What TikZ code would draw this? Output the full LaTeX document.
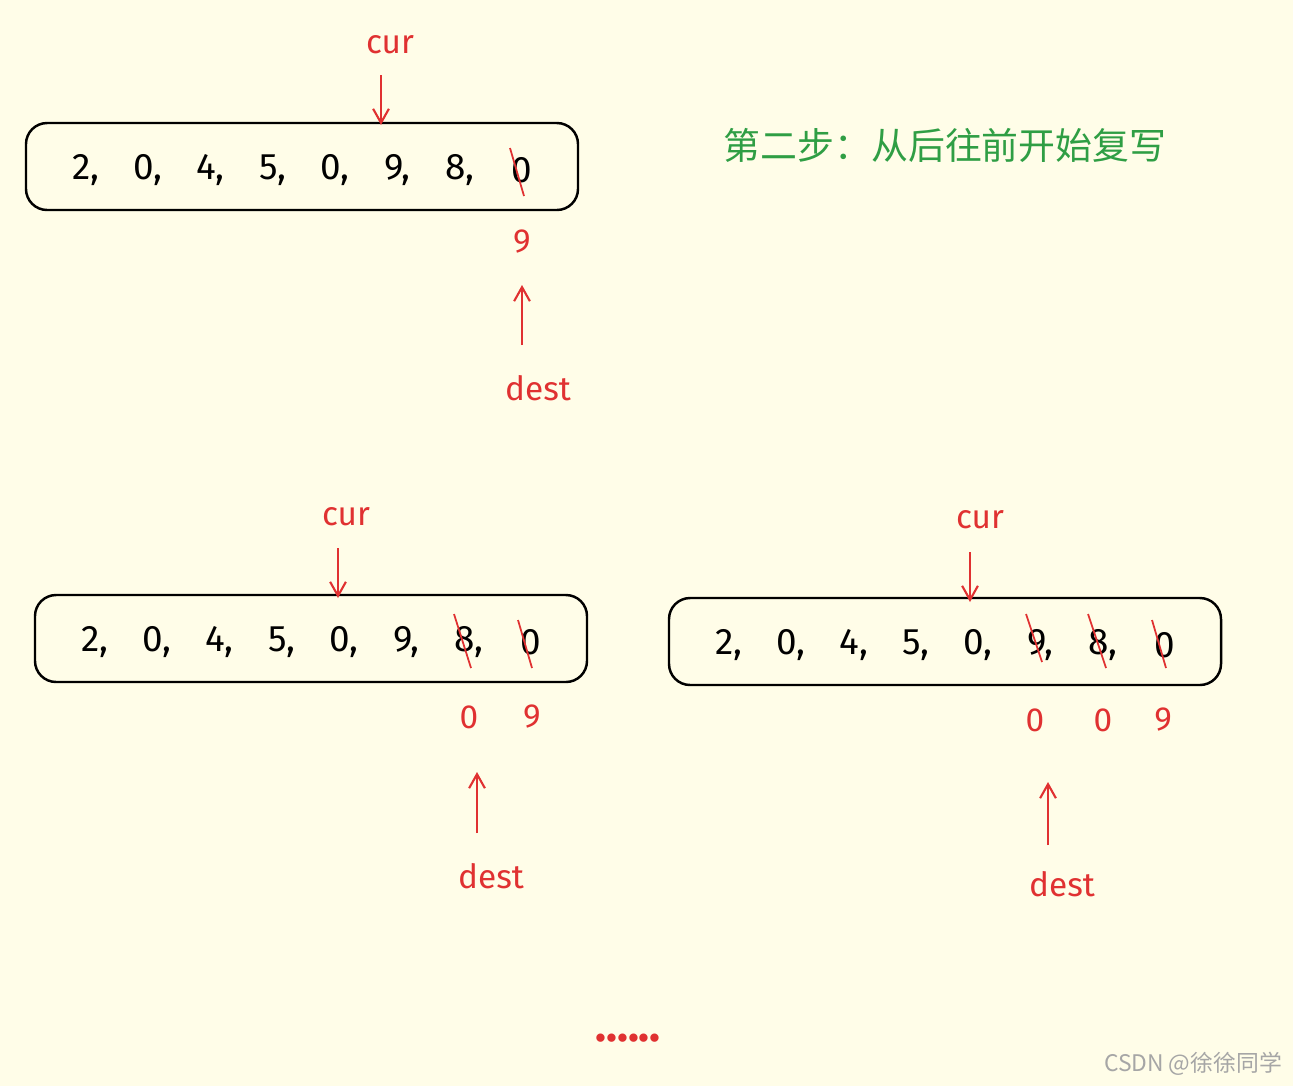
\documentclass[tikz,border=0pt]{standalone}
\usepackage{fontspec}
\setmainfont{Fira Sans}
\newfontfamily\cjk{Noto Sans CJK SC}
\usetikzlibrary{positioning,arrows.meta}
\definecolor{paper}{HTML}{FFFDE8}
\definecolor{mark}{HTML}{E03131}
\definecolor{step}{HTML}{2F9E44}
\tikzset{
  box/.style={draw, line width=1.4pt, rounded corners=12pt},
  digit/.style={font=\fontsize{21}{21}\selectfont, inner sep=1pt},
  tag/.style={text=mark, font=\fontsize{19}{19}\selectfont},
  strike/.style={draw=mark, line width=1pt},
  ptr/.style={draw=mark, line width=1.2pt, -{Straight Barb[length=8pt,width=9pt]}}
}
% one row of numbers, digits named <prefix>1 ... <prefix>8
\newcommand{\numrow}[3]{%
  \foreach \d [count=\i] in {2,0,4,5,0,9,8,0} {
    \node[digit] (#1\i) at ({#2+(\i-1)*62.3},#3) {\d\ifnum\i<8,\fi};
  }}
\begin{document}
\begin{tikzpicture}[x=0.02cm, y=-0.02cm]
  \fill[paper] (0,0) rectangle (1293,1086);
  \useasboundingbox (0,0) rectangle (1293,1086);

  % first step
  \draw[box] (26,123) rectangle (578,210);
  \numrow{a}{86}{170}
  \draw[strike] (510,148) -- (524,196);
  \node[tag] (acur) at (390,45) {cur};
  \coordinate (atop) at (381,125);
  \draw[ptr] (381,75) -- (atop);
  \node[tag] (anine) at (522,242) {9};
  \node[tag] (adest) at (538,388) {dest};
  \coordinate (afoot) at (522,345);
  \coordinate (ahead) at (522,285);
  \draw[ptr] (afoot) -- (ahead);

  \node[text=step, font=\cjk\fontsize{21}{21}\selectfont] (title) at (945,145) {第二步：从后往前开始复写};

  % second row, left
  \draw[box] (35,595) rectangle (587,682);
  \numrow{b}{95}{642}
  \draw[strike] (454,614) -- (471,668);
  \draw[strike] (518,620) -- (532,668);
  \node[tag] (bcur) at (346,517) {cur};
  \coordinate (btop) at (338,598);
  \draw[ptr] (338,548) -- (btop);
  \node[tag] (bzero) at (469,717) {0};
  \node[tag] (bnine) at (532,717) {9};
  \node[tag] (bdest) at (491,876) {dest};
  \coordinate (bfoot) at (477,833);
  \coordinate (bhead) at (477,772);
  \draw[ptr] (bfoot) -- (bhead);

  % second row, right
  \draw[box] (669,598) rectangle (1221,685);
  \numrow{c}{729}{645}
  \draw[strike] (1026,614) -- (1042,662);
  \draw[strike] (1088,614) -- (1106,668);
  \draw[strike] (1152,620) -- (1166,668);
  \node[tag] (ccur) at (980,520) {cur};
  \coordinate (ctop) at (970,602);
  \draw[ptr] (970,552) -- (ctop);
  \node[tag] (czero) at (1035,720) {0};
  \node[tag] (czerob) at (1103,720) {0};
  \node[tag] (cnine) at (1163,720) {9};
  \node[tag] (cdest) at (1062,884) {dest};
  \coordinate (cfoot) at (1048,845);
  \coordinate (chead) at (1048,782);
  \draw[ptr] (cfoot) -- (chead);

  \node[text=mark, font=\bfseries\fontsize{26}{26}\selectfont] (dots) at (628,1038) {......};
  \node[text=black!35, font=\cjk\fontsize{13}{13}\selectfont] (mark) at (1193,1064) {CSDN @徐徐同学};
\end{tikzpicture}
\end{document}
